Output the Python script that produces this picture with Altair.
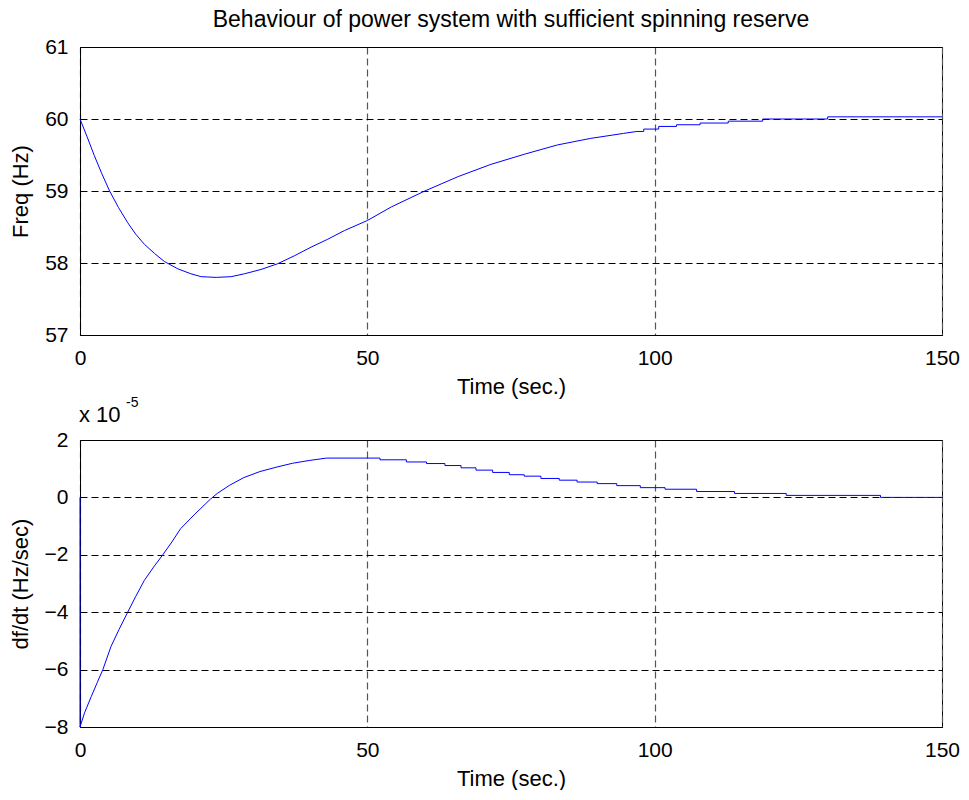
import altair as alt
import pandas as pd

FONT = "Liberation Sans"

# ---------------- text ----------------
main_title = "Behaviour of power system with sufficient spinning reserve"
x_title = "Time (sec.)"
y_title_top = "Freq (Hz)"
y_title_bottom = "df/dt (Hz/sec)"
exp_base = ["x 10"]
exp_power = ["-5"]

# ---------------- ticks ----------------
x_ticks = [0, 50, 100, 150]
freq_ticks = [57, 58, 59, 60, 61]
rate_ticks = [-8, -6, -4, -2, 0, 2]

# ---------------- top panel: frequency (Hz) ----------------
freq_t = [0, 1.2, 2.5, 3.8, 5.15, 6.7, 8.3, 9.7, 11.2, 13.0, 14.7, 17.0, 19.3, 21.1,
          23.7, 26.3, 28.6, 31.5, 34.4, 37.3, 40.2, 43.1, 46.0, 50.0, 54.2, 60.0,
          65.8, 71.5, 77.3, 83.1, 88.8, 94.6, 96.9]
freq_v = [60.0, 59.76, 59.49, 59.24, 59.0, 58.77, 58.56, 58.40, 58.26, 58.13, 58.02,
          57.92, 57.85, 57.81, 57.80, 57.81, 57.85, 57.91, 57.99, 58.10, 58.22, 58.33,
          58.45, 58.59, 58.78, 59.0, 59.20, 59.37, 59.51, 59.64, 59.73, 59.80, 59.827]
# stair-stepped tail
freq_step_t = [96.9, 98.1, 100.7, 103.8, 107.9, 112.8, 118.8, 130.1, 150.0]
freq_step_v = [59.827, 59.86, 59.897, 59.92, 59.944, 59.97, 60.0, 60.03, 60.03]

# ---------------- bottom panel: df/dt (x 1e-5 Hz/sec) ----------------
rate_t = [0, 0, 0.8, 1.96, 3.0, 3.98, 5.4, 6.8, 8.3, 9.7, 11.2, 12.8, 14.4, 16.0,
          17.5, 20.0, 22.7, 23.9, 26.0, 28.5, 31.3, 34.3, 37.0, 40.0, 42.9, 48.4]
rate_v = [0, -8, -7.5, -6.94, -6.45, -6.0, -5.19, -4.6, -4.0, -3.45, -2.89, -2.43,
          -2.0, -1.55, -1.09, -0.58, -0.06, 0.14, 0.42, 0.69, 0.90, 1.06, 1.19, 1.29,
          1.37, 1.37]
rate_step_t = [48.4, 52.2, 56.8, 60.3, 63.5, 66.3, 68.9, 71.8, 74.7, 77.3, 80.2,
               83.4, 86.5, 90.0, 93.4, 97.5, 101.8, 107.3, 113.9, 122.9, 139.3, 150.0]
rate_step_v = [1.37, 1.31, 1.235, 1.18, 1.11, 1.03, 0.95, 0.87, 0.79, 0.74, 0.66,
               0.60, 0.535, 0.48, 0.41, 0.34, 0.285, 0.205, 0.137, 0.07, 0.0, 0.0]

df_f = pd.DataFrame({"t": freq_t, "v": freq_v, "i": range(len(freq_t))})
df_fs = pd.DataFrame({"t": freq_step_t, "v": freq_step_v, "i": range(len(freq_step_t))})
df_r = pd.DataFrame({"t": rate_t, "v": rate_v, "i": range(len(rate_t))})
df_rs = pd.DataFrame({"t": rate_step_t, "v": rate_step_v, "i": range(len(rate_step_t))})

BLUE = "#0000ff"
W, H1, H2 = 862, 288, 287
FS = 21

TXT = dict(labelFont=FONT, labelFontSize=FS, labelColor="black",
           titleFont=FONT, titleFontSize=22, titleFontWeight="normal",
           titleColor="black", domainColor="black", domainWidth=1)


def x_enc(title_y):
    ax = alt.Axis(values=x_ticks, title=x_title, grid=True, gridColor="#555555",
                  gridDash=[7, 4], gridWidth=1.2, ticks=False, tickSize=0,
                  labelPadding=12, labelFlush=False, titleY=title_y, format="d", **TXT)
    return alt.X("t:Q", scale=alt.Scale(domain=[0, 150], nice=False), axis=ax)


def y_enc(ticks, dom, title):
    return alt.Y("v:Q", scale=alt.Scale(domain=dom, nice=False, zero=False),
                 axis=alt.Axis(values=ticks, title=title, grid=True, gridColor="black",
                               gridDash=[7, 4], gridWidth=1, ticks=False, tickSize=0,
                               labelPadding=12, labelFlush=False, titleX=-48,
                               format="d", **TXT))


def line(df, ticks, dom, title, title_y, interp="linear"):
    return alt.Chart(df).mark_line(color=BLUE, strokeWidth=1, interpolate=interp).encode(
        x=x_enc(title_y), y=y_enc(ticks, dom, title), order="i:Q")


top = alt.layer(
    line(df_f, freq_ticks, [57, 61], y_title_top, 41),
    line(df_fs, freq_ticks, [57, 61], y_title_top, 41, "step-after"),
).properties(
    width=W, height=H1,
    title=alt.TitleParams(main_title, font=FONT, fontSize=23, fontWeight="normal",
                          color="black", anchor="middle", frame="group", offset=4),
)

exp_text = alt.Chart(pd.DataFrame({"s": exp_base})).mark_text(
    align="left", baseline="alphabetic", font=FONT, fontSize=22, color="black"
).encode(x=alt.value(-1), y=alt.value(-18), text="s:N")
pow_text = alt.Chart(pd.DataFrame({"s": exp_power})).mark_text(
    align="left", baseline="alphabetic", font=FONT, fontSize=14, color="black"
).encode(x=alt.value(46), y=alt.value(-33), text="s:N")

bottom = alt.layer(
    line(df_r, rate_ticks, [-8, 2], y_title_bottom, 41),
    line(df_rs, rate_ticks, [-8, 2], y_title_bottom, 41, "step-after"),
    exp_text, pow_text,
).properties(width=W, height=H2)

chart = alt.vconcat(top, bottom, spacing=105, bounds="flush").properties(
    padding={"left": 0, "top": 0, "right": 0, "bottom": 0},
    background="white",
).configure_view(stroke="black", strokeWidth=1)

chart.save("out.html", embed_options={"renderer": "svg", "actions": False})
